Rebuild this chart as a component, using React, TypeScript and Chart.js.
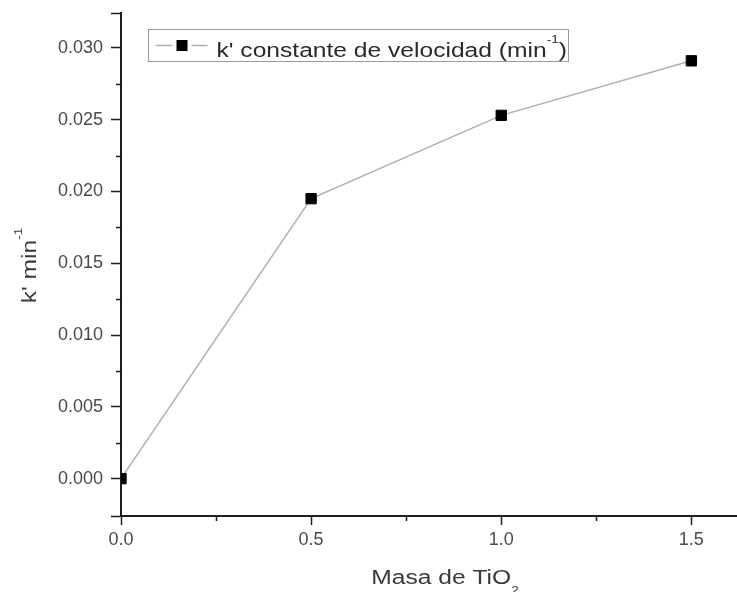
import { useEffect, useRef } from 'react';
import { Chart, registerables } from 'chart.js';

Chart.register(...registerables);

// ---- data ----
const masaTiO2 = [0.0, 0.5, 1.0, 1.5];
const kConstante = [0.0, 0.0195, 0.0253, 0.0291];

// ---- ticks ----
const xMajorTicks = [0.0, 0.5, 1.0, 1.5];
const xMinorTicks = [0.25, 0.75, 1.25];
const yMajorTicks = [0.0, 0.005, 0.01, 0.015, 0.02, 0.025, 0.03];
const yMinorTicks = [0.0025, 0.0075, 0.0125, 0.0175, 0.0225, 0.0275];
const X_MIN = 0;
const X_MAX = 1.62;
const Y_MIN = -0.0026;
const Y_MAX = 0.03243;

// ---- texts ----
type Part = [string, 'n' | 'sup' | 'sub'];
const seriesLabel = "k' constante de velocidad (min⁻¹)";
const legendParts: Part[] = [["k' constante de velocidad (min", 'n'], ['-1', 'sup'], [')', 'n']];
const yTitleParts: Part[] = [["k' min", 'n'], ['-1', 'sup']];
const xTitleParts: Part[] = [['Masa de TiO', 'n'], ['2', 'sub']];

const FONT = '"Liberation Sans", Arial, Helvetica, sans-serif';
const AXIS = '#1e1e1e';
const TICK_TEXT = '#4a4a4a';
const TITLE_TEXT = '#3a3a3a';
const MAIN = 20;
const SMALL = 11;
const SX = 1.23;

function partFont(kind: string) {
  return `${kind === 'n' ? MAIN : SMALL}px ${FONT}`;
}
function partDy(kind: string) {
  return kind === 'sup' ? -14 : kind === 'sub' ? 10 : 0;
}
function rawWidth(ctx: CanvasRenderingContext2D, parts: Part[]) {
  let w = 0;
  for (const [t, k] of parts) {
    ctx.font = partFont(k);
    w += ctx.measureText(t).width;
  }
  return w;
}
function drawRich(ctx: CanvasRenderingContext2D, parts: Part[], x: number, y: number, center: boolean, color: string) {
  ctx.save();
  ctx.translate(x, y);
  ctx.scale(SX, 1);
  ctx.fillStyle = color;
  ctx.textBaseline = 'alphabetic';
  ctx.textAlign = 'left';
  let cx = center ? -rawWidth(ctx, parts) / 2 : 0;
  for (const [t, k] of parts) {
    ctx.font = partFont(k);
    ctx.fillText(t, cx, partDy(k));
    cx += ctx.measureText(t).width;
  }
  ctx.restore();
}

const zeroPadding = (s: any) => {
  s.paddingLeft = 0;
  s.paddingRight = 0;
  s.paddingTop = 0;
  s.paddingBottom = 0;
};

const overlayPlugin = {
  id: 'overlay',
  afterDraw(chart: any) {
    const { ctx, chartArea, scales } = chart;
    const xs = scales.x;
    const ys = scales.y;
    ctx.save();
    // minor ticks
    ctx.strokeStyle = AXIS;
    ctx.lineWidth = 1.5;
    ctx.beginPath();
    for (const v of yMinorTicks) {
      const py = Math.round(ys.getPixelForValue(v)) + 0.5;
      ctx.moveTo(chartArea.left - 5, py);
      ctx.lineTo(chartArea.left, py);
    }
    for (const v of xMinorTicks) {
      const px = Math.round(xs.getPixelForValue(v)) + 0.5;
      ctx.moveTo(px, chartArea.bottom);
      ctx.lineTo(px, chartArea.bottom + 5);
    }
    ctx.stroke();

    // axis titles
    drawRich(ctx, xTitleParts, (chartArea.left + chartArea.right) / 2 + 16, chart.height - 8, true, TITLE_TEXT);
    ctx.save();
    ctx.translate(36, (chartArea.top + chartArea.bottom) / 2 + 1);
    ctx.rotate(-Math.PI / 2);
    drawRich(ctx, yTitleParts, 0, 0, true, TITLE_TEXT);
    ctx.restore();

    // legend
    const ds = chart.data.datasets[0];
    const bx = chartArea.left + 27.5;
    const by = chartArea.top + 16.5;
    ctx.fillStyle = '#ffffff';
    ctx.fillRect(bx, by, 420, 32);
    ctx.strokeStyle = '#9a9a9a';
    ctx.lineWidth = 1;
    ctx.strokeRect(bx, by, 420, 32);
    ctx.strokeStyle = ds.borderColor;
    ctx.lineWidth = ds.borderWidth;
    ctx.beginPath();
    ctx.moveTo(bx + 7, by + 16);
    ctx.lineTo(bx + 24, by + 16);
    ctx.moveTo(bx + 43, by + 16);
    ctx.lineTo(bx + 59, by + 16);
    ctx.stroke();
    ctx.fillStyle = ds.pointBackgroundColor;
    ctx.fillRect(bx + 28, by + 10.5, 11, 11);
    drawRich(ctx, legendParts, bx + 68, by + 27, false, '#2a2a2a');
    ctx.restore();
  },
};

export default function App() {
  const ref = useRef<HTMLCanvasElement | null>(null);
  useEffect(() => {
    if (!ref.current) return;
    const chart = new Chart(ref.current, {
      type: 'line',
      data: {
        datasets: [
          {
            label: seriesLabel,
            data: masaTiO2.map((x, i) => ({ x, y: kConstante[i] })),
            borderColor: '#b0b0b0',
            borderWidth: 1.5,
            pointStyle: 'rect',
            pointRadius: 7.3,
            pointBackgroundColor: '#000000',
            pointBorderColor: '#000000',
            pointBorderWidth: 1,
            tension: 0,
            fill: false,
          },
        ],
      },
      options: {
        responsive: false,
        animation: false,
        layout: { autoPadding: false, padding: { top: 13, left: 0, right: 0, bottom: 0 } },
        plugins: { legend: { display: false }, tooltip: { enabled: false } },
        scales: {
          x: {
            type: 'linear',
            min: X_MIN,
            max: X_MAX,
            afterFit: (s: any) => {
              s.height = 76;
              zeroPadding(s);
            },
            afterBuildTicks: (s: any) => {
              s.ticks = xMajorTicks.map((v) => ({ value: v }));
            },
            grid: { display: true, drawOnChartArea: false, drawTicks: true, tickLength: 9, tickColor: AXIS, tickWidth: 1.5 },
            border: { display: true, color: AXIS, width: 2 },
            ticks: {
              padding: 4,
              color: TICK_TEXT,
              font: { family: FONT, size: 18 },
              autoSkip: false,
              maxRotation: 0,
              callback: (v: any) => Number(v).toFixed(1),
            },
          },
          y: {
            type: 'linear',
            min: Y_MIN,
            max: Y_MAX,
            afterFit: (s: any) => {
              s.width = 121;
              zeroPadding(s);
            },
            afterBuildTicks: (s: any) => {
              s.ticks = [{ value: Y_MIN }, ...yMajorTicks.map((v) => ({ value: v })), { value: Y_MAX }];
            },
            grid: { display: true, drawOnChartArea: false, drawTicks: true, tickLength: 10, tickColor: AXIS, tickWidth: 1.5 },
            border: { display: true, color: AXIS, width: 2 },
            ticks: {
              padding: 8,
              color: TICK_TEXT,
              font: { family: FONT, size: 18 },
              autoSkip: false,
              callback: (v: any) =>
                yMajorTicks.some((t) => Math.abs(t - Number(v)) < 1e-9) ? Number(v).toFixed(3) : '',
            },
          },
        },
      },
      plugins: [overlayPlugin],
    } as any);
    return () => chart.destroy();
  }, []);
  return (
    <div style={{ position: 'absolute', left: 0, top: 0, width: 737, height: 592, background: '#ffffff' }}>
      <canvas ref={ref} width={737} height={592} style={{ display: 'block' }} />
    </div>
  );
}
